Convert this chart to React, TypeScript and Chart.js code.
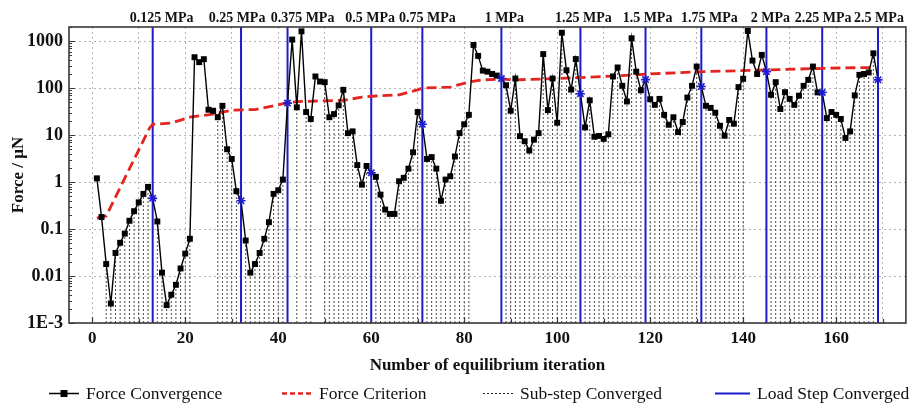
import React, { useEffect, useRef } from "react";
import { Chart, registerables } from "chart.js";

Chart.register(...registerables);

// ---------------- data ----------------
const FIRST_ITERATION = 1;

const forceConvergence = [
  1.2, 0.18, 0.018, 0.0026, 0.031, 0.051, 0.08, 0.15, 0.24, 0.37,
  0.56, 0.79, 0.45, 0.145, 0.0118, 0.0024, 0.004, 0.0065, 0.0145, 0.03,
  0.062, 455, 357, 413, 34.7, 33, 24, 42, 5.0, 3.1,
  0.64, 0.4, 0.057, 0.0118, 0.018, 0.031, 0.062, 0.14, 0.56, 0.67,
  1.13, 48, 1080, 39, 1620, 31, 22, 177, 138, 134,
  24, 28, 43, 92, 11, 12, 2.3, 0.88, 2.2, 1.57,
  1.29, 0.54, 0.26, 0.21, 0.21, 1.04, 1.23, 1.93, 4.3, 31,
  17, 3.1, 3.4, 1.93, 0.4, 1.13, 1.33, 3.5, 11, 17,
  27, 830, 485, 236, 224, 200, 185, 160, 115, 33,
  160, 9.5, 7.4, 4.7, 8.0, 11, 530, 34, 160, 18.3,
  1510, 240, 93, 415, 76, 14.6, 55, 9.2, 9.6, 8.3,
  10.4, 177, 275, 112, 52, 1150, 224, 90, 152, 58,
  44, 59, 27, 16.6, 24, 11.6, 19, 63, 112, 288,
  108, 42, 38, 30, 15.8, 9.7, 21, 17.5, 105, 158,
  1650, 386, 200, 510, 224, 72, 134, 36, 82, 59,
  44, 69, 112, 150, 288, 81, 81, 23, 31, 27,
  22, 8.7, 12, 70, 192, 200, 215, 550, 150,
];

const criterionIterations = [
  1, 3, 12.3, 13, 17, 21, 26, 30, 35, 39, 42, 45, 54, 58, 61, 66, 70, 71, 77, 81,
  84, 88, 91, 100, 105, 112, 119, 130, 144, 158, 168,
];
const criterionValues = [
  0.17, 0.19, 14, 17, 18, 24, 28, 34, 35, 42, 49, 52, 55, 64, 68, 72, 92, 100, 105, 135,
  150, 155, 150, 160, 168, 180, 198, 222, 242, 265, 275,
];

const loadStepIterations = [13, 32, 42, 60, 71, 88, 105, 119, 131, 145, 157, 169];
const loadStepLabels = [
  "0.125 MPa", "0.25 MPa", "0.375 MPa", "0.5 MPa", "0.75 MPa", "1 MPa",
  "1.25 MPa", "1.5 MPa", "1.75 MPa", "2 MPa", "2.25 MPa", "2.5 MPa",
];

const subStepIterations = [
  3, 4, 5, 6, 7, 8, 9, 10, 11, 12,
  14, 15, 16, 17, 18, 19, 20, 21,
  27, 28, 29, 30, 31,
  33, 34, 35, 36, 37, 38, 39, 40, 41,
  44, 46, 47,
  50, 51, 52, 53, 54, 55, 56, 57, 58, 59,
  61, 62, 63, 64, 65, 66, 67, 68, 69, 70,
  72, 73, 74, 75, 76, 77, 78, 79, 80, 81,
  89, 90, 91, 92, 93, 94, 95, 96, 97, 98, 99, 100, 101, 102, 103, 104,
  106, 107, 108, 109, 110, 111, 112, 113, 114, 115, 116, 117, 118,
  120, 121, 122, 123, 124, 125, 126, 127, 128, 129, 130,
  132, 133, 134, 135, 136, 137, 138, 139, 140,
  146, 147, 148, 149, 150, 151, 152, 153, 154, 155, 156,
  158, 159, 160, 161, 162, 163, 164, 165, 166, 167, 168,
];

const xTickValues = [0, 10, 20, 30, 40, 50, 60, 70, 80, 90, 100, 110, 120, 130, 140, 150, 160, 170];
const xLabelledTicks = [0, 20, 40, 60, 80, 100, 120, 140, 160];
const yTickValues = [0.001, 0.01, 0.1, 1, 10, 100, 1000];
const yTickLabels = ["1E-3", "0.01", "0.1", "1", "10", "100", "1000"];

const X_MIN = -5;
const X_MAX = 175;
const Y_MIN = 0.001;
const Y_MAX = 2000;

const legendLabels = ["Force Convergence", "Force Criterion", "Sub-step Converged", "Load Step Converged"];

// ---------------- style ----------------
const SERIF = "'Liberation Serif', 'Times New Roman', serif";
const BLUE = "#1c1ccc";
const RED = "#e3241f";
const GRID = "#b5b5b5";
const FRAME = "#3a3a3a";
const labelOffsets = [9, -4, 15, -1, 5, 3, 3, 2, 8, 4, 1, 1];
const legendX = [49, 282, 483, 715];
const legendLineLen = [30, 30, 30, 35];

const decorPlugin = {
  id: "decor",
  afterDraw(chart: any) {
    const { ctx, chartArea: a, scales } = chart;
    const xs = scales.x;
    const ys = scales.y;
    ctx.save();
    // frame
    ctx.strokeStyle = FRAME;
    ctx.lineWidth = 1.6;
    ctx.setLineDash([]);
    ctx.strokeRect(a.left, a.top, a.right - a.left, a.bottom - a.top);
    // inward ticks x
    ctx.lineWidth = 1.2;
    ctx.beginPath();
    for (const v of xTickValues) {
      const px = Math.round(xs.getPixelForValue(v)) + 0.5;
      const len = xLabelledTicks.includes(v) ? 6 : 4;
      ctx.moveTo(px, a.bottom);
      ctx.lineTo(px, a.bottom - len);
    }
    // inward ticks y (major + log minor)
    for (let d = -3; d <= 3; d++) {
      for (let k = 1; k <= 9; k++) {
        const v = k * Math.pow(10, d);
        if (v > Y_MAX || v < Y_MIN) continue;
        const py = Math.round(ys.getPixelForValue(v)) + 0.5;
        const len = k === 1 ? 6 : 3;
        ctx.moveTo(a.left, py);
        ctx.lineTo(a.left + len, py);
      }
    }
    ctx.stroke();

    // load-step labels
    ctx.fillStyle = "#111";
    ctx.font = `bold 14px ${SERIF}`;
    ctx.textAlign = "center";
    ctx.textBaseline = "middle";
    loadStepIterations.forEach((it, i) => {
      ctx.fillText(loadStepLabels[i], xs.getPixelForValue(it) + labelOffsets[i], 18);
    });

    // legend
    const ly = 393;
    ctx.font = `17.5px ${SERIF}`;
    ctx.textAlign = "left";
    ctx.textBaseline = "middle";
    legendLabels.forEach((lab, i) => {
      const x0 = legendX[i];
      const x1 = x0 + legendLineLen[i];
      ctx.beginPath();
      if (i === 0) {
        ctx.strokeStyle = "#000";
        ctx.lineWidth = 1.5;
        ctx.setLineDash([]);
      } else if (i === 1) {
        ctx.strokeStyle = RED;
        ctx.lineWidth = 2.5;
        ctx.setLineDash([5, 3]);
      } else if (i === 2) {
        ctx.strokeStyle = "#222";
        ctx.lineWidth = 1;
        ctx.setLineDash([2, 2]);
      } else {
        ctx.strokeStyle = BLUE;
        ctx.lineWidth = 2;
        ctx.setLineDash([]);
      }
      ctx.moveTo(x0, ly + 0.5);
      ctx.lineTo(x1, ly + 0.5);
      ctx.stroke();
      ctx.setLineDash([]);
      if (i === 0) {
        ctx.fillStyle = "#000";
        ctx.fillRect((x0 + x1) / 2 - 3.5, ly - 3, 7, 7);
      }
      ctx.fillStyle = "#111";
      ctx.fillText(lab, x1 + 7, ly + 1);
    });
    ctx.restore();
  },
};

export default function App() {
  const canvasRef = useRef<HTMLCanvasElement | null>(null);

  useEffect(() => {
    const canvas = canvasRef.current;
    if (!canvas) return;

    const forcePoints = forceConvergence.map((v, i) => ({ x: FIRST_ITERATION + i, y: v }));
    const valueAt = (it: number) => forceConvergence[it - FIRST_ITERATION];

    const dropPoints: any[] = [];
    subStepIterations.forEach((it) => {
      dropPoints.push({ x: it, y: Y_MIN }, { x: it, y: valueAt(it) }, { x: it, y: null });
    });
    const loadPoints: any[] = [];
    loadStepIterations.forEach((it) => {
      loadPoints.push({ x: it, y: Y_MIN }, { x: it, y: Y_MAX }, { x: it, y: null });
    });
    const criterionPoints = criterionIterations.map((x, i) => ({ x, y: criterionValues[i] }));

    const isLoadStep = (x: number) => loadStepIterations.includes(x);

    const chart = new Chart(canvas, {
      type: "line",
      data: {
        datasets: [
          {
            label: legendLabels[0],
            data: forcePoints,
            borderColor: "#000",
            borderWidth: 1.4,
            pointStyle: (c: any) => (isLoadStep(c.raw?.x) ? "star" : "rect"),
            pointRadius: (c: any) => (isLoadStep(c.raw?.x) ? 4.5 : 4.2),
            pointBackgroundColor: (c: any) => (isLoadStep(c.raw?.x) ? BLUE : "#000"),
            pointBorderColor: (c: any) => (isLoadStep(c.raw?.x) ? BLUE : "#000"),
            pointBorderWidth: (c: any) => (isLoadStep(c.raw?.x) ? 1.6 : 0),
            tension: 0,
            order: 0,
          },
          {
            label: legendLabels[1],
            data: criterionPoints,
            borderColor: RED,
            borderWidth: 2.8,
            borderDash: [10, 5],
            pointRadius: 0,
            tension: 0,
            order: 1,
          },
          {
            label: legendLabels[3],
            data: loadPoints,
            borderColor: BLUE,
            borderWidth: 2,
            pointRadius: 0,
            spanGaps: false,
            order: 2,
          },
          {
            label: legendLabels[2],
            data: dropPoints,
            borderColor: "#333",
            borderWidth: 0.9,
            borderDash: [2, 2],
            pointRadius: 0,
            spanGaps: false,
            order: 3,
          },
        ],
      },
      options: {
        animation: false,
        responsive: false,
        devicePixelRatio: 1,
        layout: { padding: { top: 27, right: 2, left: 0, bottom: 0 } },
        plugins: { legend: { display: false }, tooltip: { enabled: false } },
        scales: {
          x: {
            type: "linear",
            min: X_MIN,
            max: X_MAX,
            afterBuildTicks: (s: any) => {
              s.ticks = xTickValues.map((v) => ({ value: v }));
            },
            afterFit: (s: any) => {
              s.height = 80;
            },
            ticks: {
              autoSkip: false,
              maxRotation: 0,
              padding: 5,
              color: "#111",
              font: { family: SERIF, size: 17, weight: "bold" },
              callback: (v: any) => (xLabelledTicks.includes(Number(v)) ? String(v) : ""),
            },
            grid: { color: GRID, lineWidth: 1, drawTicks: false },
            border: { display: false, dash: [2, 3] },
            title: {
              display: true,
              text: "Number of equilibrium iteration",
              color: "#111",
              font: { family: SERIF, size: 17, weight: "bold" },
              padding: { top: 0, bottom: 27 },
            },
          },
          y: {
            type: "logarithmic",
            min: Y_MIN,
            max: Y_MAX,
            afterBuildTicks: (s: any) => {
              s.ticks = yTickValues.map((v) => ({ value: v }));
            },
            afterFit: (s: any) => {
              s.width = 69;
            },
            ticks: {
              autoSkip: false,
              padding: 6,
              color: "#111",
              font: { family: SERIF, size: 18, weight: "bold" },
              callback: (v: any) => {
                const idx = yTickValues.findIndex((t) => Math.abs(Math.log10(t) - Math.log10(Number(v))) < 1e-6);
                return idx >= 0 ? yTickLabels[idx] : "";
              },
            },
            grid: { color: GRID, lineWidth: 1, drawTicks: false },
            border: { display: false, dash: [2, 3] },
            title: {
              display: true,
              text: "Force / μN",
              color: "#111",
              font: { family: SERIF, size: 17, weight: "bold" },
              padding: { top: 8, bottom: 0 },
            },
          },
        },
      },
      plugins: [decorPlugin],
    } as any);

    return () => chart.destroy();
  }, []);

  return (
    <div style={{ position: "fixed", left: 0, top: 0, width: 912, height: 403, background: "#fff" }}>
      <canvas ref={canvasRef} width={912} height={403} style={{ display: "block" }} />
    </div>
  );
}
